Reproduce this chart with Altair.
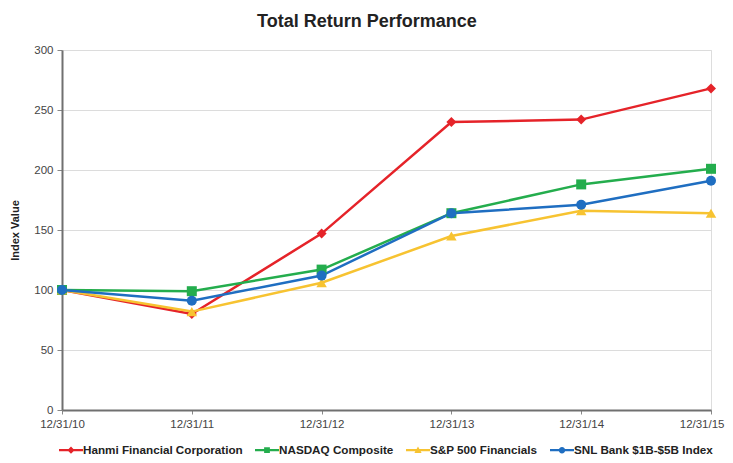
import altair as alt
import pandas as pd

dates = ["12/31/10", "12/31/11", "12/31/12", "12/31/13", "12/31/14", "12/31/15"]
series_names = ["Hanmi Financial Corporation", "NASDAQ Composite", "S&P 500 Financials", "SNL Bank $1B-$5B Index"]
hanmi = [100, 80, 147, 240, 242, 268]
nasdaq = [100, 99, 117, 164, 188, 201]
sp500fin = [100, 82, 106, 145, 166, 164]
snl = [100, 91, 112, 164, 171, 191]
colors = ["#e52329", "#24ad4d", "#f7c331", "#1f6ec1"]
shapes = ["diamond", "square", "triangle-up", "circle"]

rows = []
for name, vals in zip(series_names, [hanmi, nasdaq, sp500fin, snl]):
    for d, v in zip(dates, vals):
        rows.append({"date": d, "series": name, "value": v})
df = pd.DataFrame(rows)

FONT = "Liberation Sans"

x_enc = alt.X("date:O", sort=dates, scale=alt.Scale(type="point", padding=0),
              axis=alt.Axis(title=None, labelAngle=0, labelFontSize=11.5, labelColor="#444444",
                            labelFont=FONT, ticks=True, tickSize=4, tickColor="#888888",
                            domain=True, domainColor="#707070", domainWidth=2,
                            grid=False, labelPadding=4,
                            labelAlign={"condition": {"test": "datum.value == '12/31/15'", "value": "right"},
                                        "value": "center"},
                            labelOffset={"condition": {"test": "datum.value == '12/31/15'", "value": 13},
                                         "value": 0}))
y_enc = alt.Y("value:Q", scale=alt.Scale(domain=[0, 300]),
              axis=alt.Axis(title="Index Value", values=[0, 50, 100, 150, 200, 250, 300],
                            titleFont=FONT, titleFontSize=11, titleFontWeight="bold",
                            titleColor="#222222", labelFont=FONT, labelFontSize=11.5,
                            labelColor="#444444", tickSize=5, tickColor="#888888",
                            domain=True, domainColor="#707070", domainWidth=2,
                            gridColor="#dcdcdc", gridWidth=1.2,
                            titlePadding=13, labelPadding=4))
color_scale = alt.Scale(domain=series_names, range=colors)

def sym(marker):
    bar = "M-1,-0.09H1V0.09H-1Z"
    return bar + " " + marker

legend_paths = [
    sym("M0,-0.3L0.3,0L0,0.3L-0.3,0Z"),
    sym("M-0.24,-0.24H0.24V0.24H-0.24Z"),
    sym("M0,-0.3L0.3,0.24H-0.3Z"),
    sym("M-0.27,0A0.27,0.27 0 1,1 0.27,0A0.27,0.27 0 1,1 -0.27,0Z"),
]

LEG = alt.Legend(title=None, orient="none", direction="horizontal",
                 legendX=-3, legendY=388,
                 symbolOpacity=1, symbolSize=576, symbolStrokeWidth=0,
                 labelFont=FONT, labelFontSize=11.7, labelFontWeight="bold",
                 labelColor="#222222", columnPadding=12, labelOffset=0,
                 labelLimit=300)

lines = alt.Chart(df).mark_line(strokeWidth=2.5).encode(
    x=x_enc, y=y_enc,
    color=alt.Color("series:N", scale=color_scale, legend=LEG),
)

point_layers = []
for name, shp in zip(series_names, shapes):
    point_layers.append(
        alt.Chart(df).transform_filter(alt.datum.series == name).mark_point(
            shape=shp, filled=True, opacity=1, size=100 if shp != "triangle-up" else 110
        ).encode(
            x=x_enc, y=y_enc,
            color=alt.Color("series:N", scale=color_scale, legend=LEG),
        )
    )

legend_layer = alt.Chart(df).mark_point(filled=True, opacity=0).encode(
    x=x_enc, y=y_enc,
    color=alt.Color("series:N", scale=color_scale, legend=LEG),
    shape=alt.Shape("series:N", scale=alt.Scale(domain=series_names, range=legend_paths),
                    legend=LEG),
)

chart = alt.layer(lines, *point_layers, legend_layer).properties(
    width=649, height=360,
    title=alt.TitleParams("Total Return Performance", font=FONT, fontSize=18,
                          fontWeight="bold", color="#222222", anchor="middle",
                          frame="bounds", offset=13),
    padding={"left": 54, "top": 42, "right": 14, "bottom": 46},
    autosize=alt.AutoSizeParams(type="none"),
).configure_view(stroke="#707070", strokeWidth=2).configure(background="white")

chart.save("out.html", embed_options={"renderer": "svg", "actions": False})
